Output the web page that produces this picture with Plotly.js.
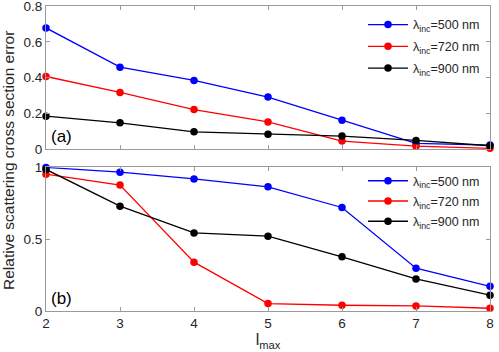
<!DOCTYPE html>
<html>
<head>
<meta charset="utf-8">
<script src="https://cdn.plot.ly/plotly-3.0.1.min.js"></script>
<style>html,body{margin:0;padding:0;background:#fff;}#chart{width:499px;height:352px;}</style>
</head>
<body>
<div id="chart"></div>
<script>
const lmax = [2, 3, 4, 5, 6, 7, 8];
const seriesNames = ['λ<sub>inc</sub>=500 nm', 'λ<sub>inc</sub>=720 nm', 'λ<sub>inc</sub>=900 nm'];
const seriesColors = ['#0000ff', '#ff0000', '#000000'];
// (a) relative scattering cross section error
const errA500 = [0.678, 0.459, 0.385, 0.292, 0.163, 0.033, 0.024];
const errA720 = [0.407, 0.318, 0.222, 0.153, 0.046, 0.018, 0.006];
const errA900 = [0.185, 0.148, 0.098, 0.085, 0.074, 0.050, 0.020];
// (b)
const errB500 = [1.000, 0.967, 0.920, 0.865, 0.721, 0.298, 0.172];
const errB720 = [0.953, 0.877, 0.340, 0.052, 0.040, 0.035, 0.019];
const errB900 = [0.986, 0.730, 0.544, 0.521, 0.377, 0.223, 0.110];
const yTicksA = [0, 0.2, 0.4, 0.6, 0.8];
const yTickTextA = ['0', '0.2', '0.4', '0.6', '0.8'];
const yTicksB = [0, 0.5, 1];
const yTickTextB = ['0', '0.5', '1'];

const dataA = [errA500, errA720, errA900];
const dataB = [errB500, errB720, errB900];
const traces = [];
dataA.forEach((ys, i) => traces.push({
  x: lmax, y: ys, xaxis: 'x', yaxis: 'y', name: seriesNames[i], legend: 'legend', legendgroup: 'a' + i,
  mode: 'lines+markers', line: {color: seriesColors[i], width: 1.3},
  marker: {color: seriesColors[i], size: 7.5, symbol: 'circle'}, cliponaxis: false
}));
dataB.forEach((ys, i) => traces.push({
  x: lmax, y: ys, xaxis: 'x2', yaxis: 'y2', name: seriesNames[i], legend: 'legend2', legendgroup: 'b' + i,
  mode: 'lines+markers', line: {color: seriesColors[i], width: 1.3},
  marker: {color: seriesColors[i], size: 7.5, symbol: 'circle'}, cliponaxis: false
}));

const axColor = '#9a9a9a';
const txtColor = '#262626';
const fontFam = 'Liberation Sans, Arial, sans-serif';
const baseAx = {
  showline: true, mirror: 'ticks', linecolor: axColor, linewidth: 1,
  ticks: 'inside', ticklen: 4, tickcolor: axColor, tickwidth: 1,
  showgrid: false, zeroline: false, ticklabeloverflow: 'allow',
  tickfont: {family: fontFam, size: 13.5, color: txtColor}
};
const legFont = {family: fontFam, size: 12.5, color: txtColor};
const layout = {
  width: 499, height: 352,
  margin: {l: 46, r: 9, t: 6, b: 41},
  paper_bgcolor: '#fff', plot_bgcolor: '#fff',
  font: {family: fontFam, size: 14, color: txtColor},
  xaxis: Object.assign({}, baseAx, {domain: [0, 1], range: [2, 8], tickvals: lmax, showticklabels: false, anchor: 'y'}),
  yaxis: Object.assign({}, baseAx, {domain: [0.530, 1], range: [0, 0.8005], tickvals: yTicksA, ticktext: yTickTextA, anchor: 'x'}),
  xaxis2: Object.assign({}, baseAx, {domain: [0, 1], range: [2, 8], tickvals: lmax, ticktext: lmax.map(String), anchor: 'y2',
    title: {text: 'l<sub>max</sub>', font: {family: fontFam, size: 16, color: txtColor}, standoff: 0}}),
  yaxis2: Object.assign({}, baseAx, {domain: [0, 0.471], range: [0, 1.0005], tickvals: yTicksB, ticktext: yTickTextB, anchor: 'x2'}),
  legend: {x: 0.714, xanchor: 'left', y: 0.987, yanchor: 'top', bgcolor: 'rgba(0,0,0,0)', borderwidth: 0,
    font: legFont, tracegroupgap: 2.5, itemwidth: 40},
  legend2: {x: 0.714, xanchor: 'left', y: 0.475, yanchor: 'top', bgcolor: 'rgba(0,0,0,0)', borderwidth: 0,
    font: legFont, tracegroupgap: 1, itemwidth: 40},
  annotations: [
    {text: 'Relative scattering cross section error', xref: 'paper', yref: 'paper', x: -0.0833, y: 0.492,
      textangle: -90, showarrow: false, font: {family: fontFam, size: 15.5, color: txtColor}, xanchor: 'center', yanchor: 'middle'},
    {text: '(a)', xref: 'x', yref: 'y', x: 2.035, y: 0.074, xanchor: 'left', yanchor: 'middle', showarrow: false,
      font: {family: fontFam, size: 17, color: '#000'}},
    {text: '(b)', xref: 'x2', yref: 'y2', x: 2.035, y: 0.09, xanchor: 'left', yanchor: 'middle', showarrow: false,
      font: {family: fontFam, size: 17, color: '#000'}}
  ]
};
Plotly.newPlot('chart', traces, layout, {displayModeBar: false, staticPlot: true});
</script>
</body>
</html>
